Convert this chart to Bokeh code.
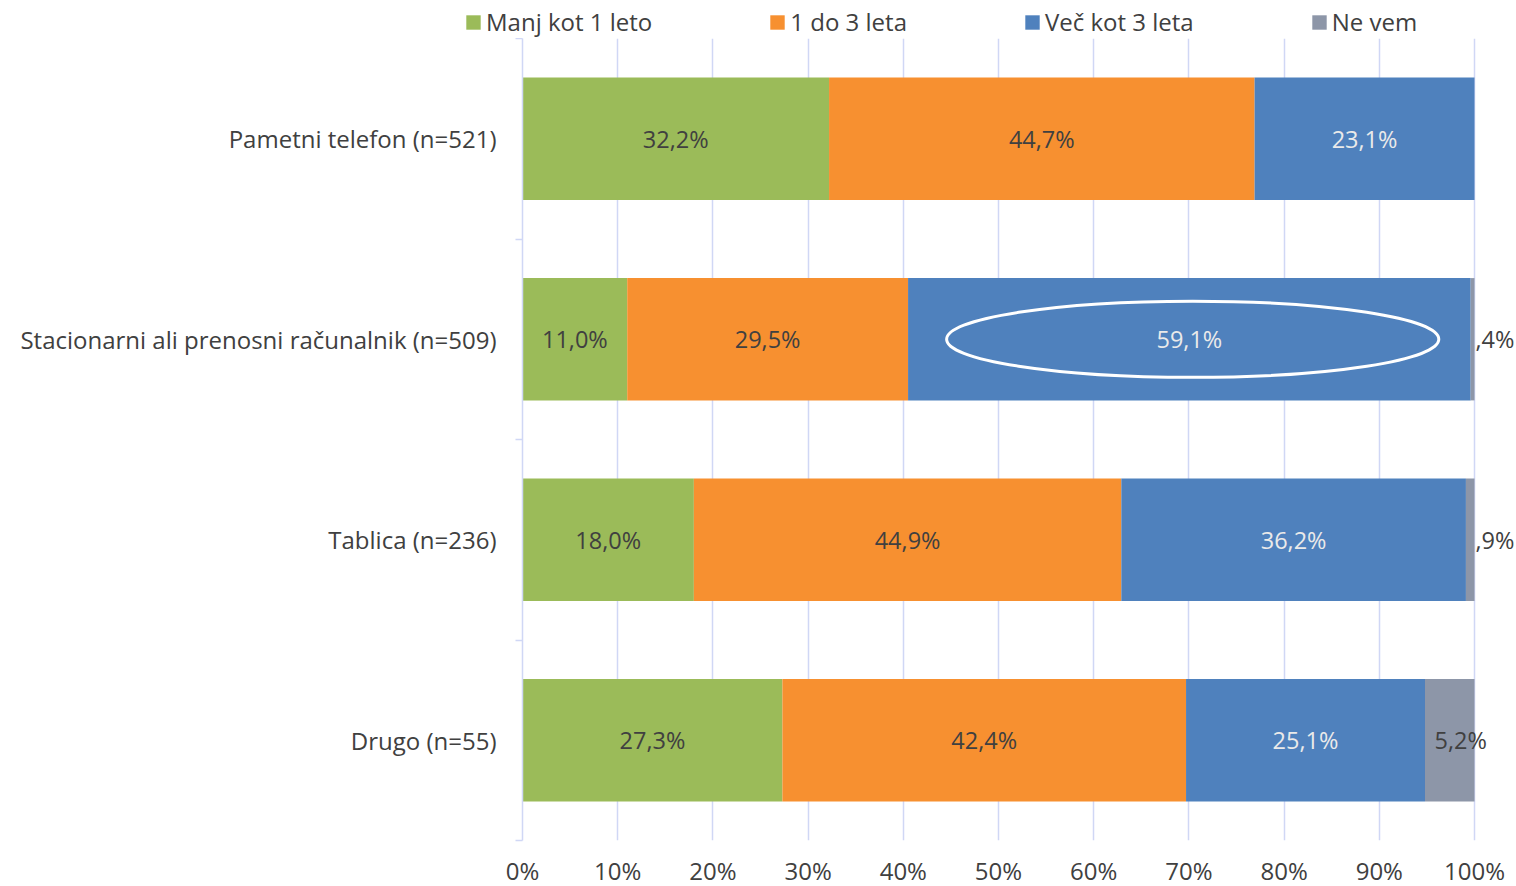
from bokeh.plotting import figure
from bokeh.layouts import column
from bokeh.models import ColumnDataSource, FixedTicker, Legend, LegendItem
from bokeh.core.properties import value
from bokeh.embed import file_html
from bokeh.resources import INLINE

categories = ["Pametni telefon (n=521)", "Stacionarni ali prenosni računalnik (n=509)",
              "Tablica (n=236)", "Drugo (n=55)"]
series = ["Manj kot 1 leto", "1 do 3 leta", "Več kot 3 leta", "Ne vem"]
manj_kot_1 = [32.2, 11.0, 18.0, 27.3]
od_1_do_3 = [44.7, 29.5, 44.9, 42.4]
vec_kot_3 = [23.1, 59.1, 36.2, 25.1]
ne_vem = [0.0, 0.4, 0.9, 5.2]
x_ticks = [0, 10, 20, 30, 40, 50, 60, 70, 80, 90, 100]

colors = ["#9BBB59", "#F79030", "#4F81BD", "#8D96A8"]
label_colors = ["#404040", "#404040", "#EAEAEA", "#404040"]
grid_col = "#D0D7F5"
FONT = "Open Sans"

FRAME_W = 994           # px; 952 px correspond to 0..100 %
FRAME_H = 802
X_MAX = 100 * FRAME_W / 952
LEG_H = 38

n = len(categories)
ypos = [n - 0.5 - i for i in range(n)]
data = {"y": ypos, "cat": categories}
keys = ["s0", "s1", "s2", "s3"]
for k, vals in zip(keys, [manj_kot_1, od_1_do_3, vec_kot_3, ne_vem]):
    data[k] = vals
src = ColumnDataSource(data)

p = figure(x_range=(0, X_MAX), y_range=(0, n), output_backend="svg", toolbar_location=None,
           frame_width=FRAME_W, frame_height=FRAME_H, min_border_left=522, min_border_right=0,
           min_border_top=0, min_border_bottom=46, outline_line_color=None)

renderers = p.hbar_stack(keys, y="y", height=0.61, color=colors, source=src, line_color=None)

# segment labels
all_vals = [manj_kot_1, od_1_do_3, vec_kot_3, ne_vem]
lx, ly, lt, lc, la, lo = [], [], [], [], [], []
for ci in range(n):
    left = 0.0
    for si in range(4):
        v = all_vals[si][ci]
        if v > 0:
            txt = f"{v:.1f}".replace(".", ",") + "%"
            if v < 1:
                txt = txt.lstrip("0")
                lx.append(left + v); la.append("left"); lo.append(1)
            else:
                lx.append(left + v / 2); la.append("center"); lo.append(11 if si == 3 else 0)
            ly.append(ypos[ci]); lt.append(txt); lc.append(label_colors[si])
        left += v
lsrc = ColumnDataSource(dict(x=lx, y=ly, t=lt, c=lc, a=la, o=lo))
p.text(x="x", y="y", text="t", text_color="c", text_align="a", x_offset="o",
       text_baseline="middle", text_font=value(FONT), text_font_size="23.5px", source=lsrc)

# highlight ellipse around 59,1%
p.ellipse(x=70.4, y=ypos[1], width=51.7, height=0.38, fill_color=None,
          line_color="white", line_width=3)

# x axis
p.xaxis.ticker = FixedTicker(ticks=x_ticks)
p.xaxis.major_label_overrides = {t: f"{t}%" for t in x_ticks}
p.xaxis.axis_line_color = None
p.xaxis.major_tick_line_color = None
p.xaxis.minor_tick_line_color = None
p.xaxis.major_label_standoff = 7
p.xaxis.major_label_text_font = FONT
p.xaxis.major_label_text_font_size = "24px"
p.xaxis.major_label_text_color = "#404040"

p.xgrid.ticker = FixedTicker(ticks=x_ticks)
p.xgrid.grid_line_color = grid_col
p.xgrid.grid_line_width = 1.5
p.ygrid.grid_line_color = None

# y axis
p.yaxis.ticker = FixedTicker(ticks=ypos, minor_ticks=list(range(n + 1)))
p.yaxis.major_label_overrides = {y: c for y, c in zip(ypos, categories)}
p.yaxis.axis_line_color = grid_col
p.yaxis.axis_line_width = 1.5
p.yaxis.major_tick_line_color = None
p.yaxis.minor_tick_line_color = grid_col
p.yaxis.minor_tick_line_width = 1.5
p.yaxis.minor_tick_out = 7
p.yaxis.minor_tick_in = 0
p.yaxis.major_label_standoff = 19
p.yaxis.major_label_text_font = FONT
p.yaxis.major_label_text_font_size = "24px"
p.yaxis.major_label_text_color = "#404040"

# legend strip above the chart (hidden copies of the series supply the swatches)
lf = figure(x_range=(0, 1), y_range=(0, 1), output_backend="svg", toolbar_location=None,
            frame_width=522 + FRAME_W, frame_height=LEG_H, min_border=0,
            outline_line_color=None)
lf.axis.visible = False
lf.grid.visible = False
leg_renderers = lf.hbar_stack(keys, y="y", height=0.61, color=colors, source=src,
                              line_color=None)
for r in leg_renderers:
    r.visible = False
legend = Legend(items=[LegendItem(label=s, renderers=[r]) for s, r in zip(series, leg_renderers)],
                orientation="horizontal", location=(464, 0),
                spacing=116, padding=0, margin=0, glyph_width=18, glyph_height=18,
                label_standoff=4, label_text_font=FONT, label_text_font_size="24px",
                label_text_color="#404040", border_line_color=None,
                background_fill_alpha=0, inactive_fill_alpha=0)
lf.add_layout(legend, "center")

layout = column(lf, p, spacing=0)
open("out.html", "w").write(file_html(layout, INLINE))
